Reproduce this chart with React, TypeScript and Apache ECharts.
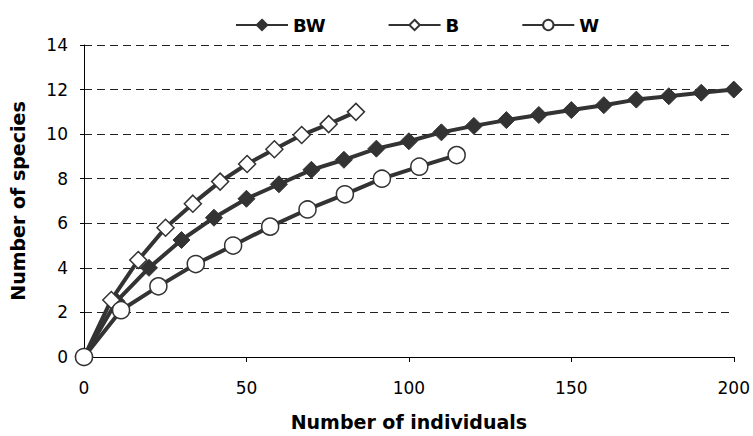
import React, { useEffect, useRef } from "react";
import * as echarts from "echarts";

const bwX = [0, 10, 20, 30, 40, 50, 60, 70, 80, 90, 100, 110, 120, 130, 140, 150, 160, 170, 180, 190, 200];
const bwY = [0, 2.5, 4.0, 5.25, 6.25, 7.1, 7.75, 8.4, 8.85, 9.35, 9.68, 10.08, 10.37, 10.63, 10.86, 11.08, 11.3, 11.55, 11.7, 11.86, 12.0];

const bX = [0, 8.4, 16.7, 25.1, 33.5, 41.9, 50.2, 58.6, 67.0, 75.3, 83.7];
const bY = [0, 2.56, 4.35, 5.8, 6.88, 7.87, 8.66, 9.32, 9.96, 10.45, 11.0];

const wX = [0, 11.4, 22.9, 34.4, 45.9, 57.3, 68.8, 80.3, 91.7, 103.2, 114.7];
const wY = [0, 2.1, 3.17, 4.17, 5.0, 5.85, 6.62, 7.3, 8.0, 8.54, 9.06];

const seriesNames = ["BW", "B", "W"];
const xTicks = { min: 0, max: 200, interval: 50 };
const yTicks = { min: 0, max: 14, interval: 2 };

const FONT = "'DejaVu Sans', sans-serif";
const DARK = "#333333";

function pairs(xs: number[], ys: number[]) {
  return xs.map((x, i) => [x, ys[i]]);
}

export default function App() {
  const ref = useRef<HTMLDivElement>(null);
  useEffect(() => {
    if (!ref.current) return;
    const chart = echarts.init(ref.current, undefined, { renderer: "svg" });
    chart.setOption({
      animation: false,
      backgroundColor: "#ffffff",
      textStyle: { fontFamily: FONT },
      legend: {
        top: 11,
        left: 230,
        itemWidth: 52,
        itemHeight: 13,
        itemGap: 62,
        textStyle: { fontFamily: FONT, fontSize: 18, fontWeight: "bold", color: "#000" },
        data: seriesNames,
      },
      grid: { left: 84, right: 16, top: 45, bottom: 79 },
      xAxis: {
        type: "value",
        min: xTicks.min,
        max: xTicks.max,
        interval: xTicks.interval,
        name: "Number of individuals",
        nameLocation: "middle",
        nameGap: 55,
        nameTextStyle: { fontFamily: FONT, fontSize: 19, fontWeight: "bold", color: "#000" },
        axisLine: { show: true, lineStyle: { color: "#000", width: 1 } },
        axisTick: { show: true, inside: false, length: 5, lineStyle: { color: "#000" } },
        axisLabel: { fontFamily: FONT, fontSize: 17, color: "#000", margin: 22 },
        splitLine: { show: false },
      },
      yAxis: {
        type: "value",
        min: yTicks.min,
        max: yTicks.max,
        interval: yTicks.interval,
        name: "Number of species",
        nameLocation: "middle",
        nameGap: 57,
        nameTextStyle: { fontFamily: FONT, fontSize: 19, fontWeight: "bold", color: "#000" },
        axisLine: { show: true, lineStyle: { color: "#000", width: 1 } },
        axisTick: { show: true, inside: false, length: 4, lineStyle: { color: "#000" } },
        axisLabel: { fontFamily: FONT, fontSize: 17, color: "#000", margin: 16 },
        splitLine: { show: true, lineStyle: { color: "#222", type: [8, 5], width: 1 } },
      },
      series: [
        {
          name: "BW",
          type: "line",
          data: pairs(bwX, bwY),
          smooth: false,
          symbol: "diamond",
          symbolSize: 17,
          lineStyle: { color: DARK, width: 4 },
          itemStyle: { color: DARK, borderColor: DARK, borderWidth: 1 },
          z: 2,
        },
        {
          name: "B",
          type: "line",
          data: pairs(bX, bY),
          symbol: "diamond",
          symbolSize: 17,
          lineStyle: { color: DARK, width: 4 },
          itemStyle: { color: "#ffffff", borderColor: DARK, borderWidth: 1.5 },
          z: 3,
        },
        {
          name: "W",
          type: "line",
          data: pairs(wX, wY),
          symbol: "circle",
          symbolSize: 17,
          lineStyle: { color: DARK, width: 4 },
          itemStyle: { color: "#ffffff", borderColor: DARK, borderWidth: 1.5 },
          z: 4,
        },
      ],
    });
    return () => chart.dispose();
  }, []);
  return <div ref={ref} style={{ width: 753, height: 436, position: "absolute", left: 0, top: 0 }} />;
}
